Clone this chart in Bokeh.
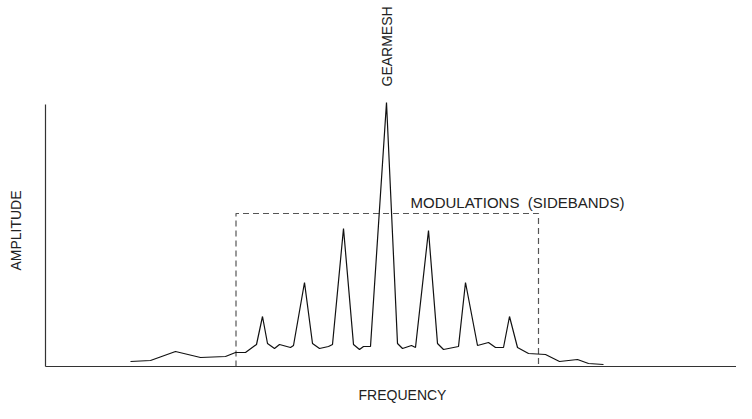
import math
from bokeh.plotting import figure
from bokeh.models import Range1d, FixedTicker, LinearAxis
from bokeh.core.properties import value
from bokeh.embed import file_html
from bokeh.resources import INLINE

# Spectrum (frequency and amplitude in arbitrary units)
frequency = [85, 105, 130, 155, 180, 190, 200, 211, 217, 222, 229, 234, 245, 248,
             259, 267, 274, 283, 287, 298, 308, 314, 318, 325, 341, 352, 357, 366,
             370, 383, 392, 398, 413, 420, 432, 443, 450, 458, 464, 472, 483, 500,
             514, 532, 543, 558]
amplitude = [5, 6, 15, 9, 10, 14, 14, 22, 50, 23, 18, 22, 19, 21,
             84, 23, 18, 20, 22, 138, 22, 17, 20, 20, 264, 23, 18, 21,
             19, 136, 23, 17, 20, 84, 21, 24, 19, 19, 50, 19, 13, 12,
             5, 7, 3, 2]

# Sideband box
box_start = 190.5
box_end = 493
box_level = 153

# Annotation anchors (data units)
gearmesh_freq = 341
gearmesh_text_level = 280
modulation_text_freq = 365
modulation_text_level = 164
freq_label_pos = (357, -28)
amp_label_pos = (-30, 136)

axis_top = 262
x_min, x_max = -45, 691
y_min, y_max = -37, 366

FONT = "Liberation Sans"
TEXT_COLOR = "#222222"

p = figure(width=736, height=403, output_backend="svg", toolbar_location=None,
           x_range=Range1d(x_min, x_max), y_range=Range1d(y_min, y_max),
           min_border_left=0, min_border_right=0, min_border_top=0,
           min_border_bottom=0, x_axis_location=None, y_axis_location=None)
p.outline_line_color = None
p.background_fill_color = "white"
p.border_fill_color = "white"
p.xgrid.visible = False
p.ygrid.visible = False

xa = LinearAxis(ticker=FixedTicker(ticks=[]), fixed_location=0, bounds=(0, x_max))
ya = LinearAxis(ticker=FixedTicker(ticks=[]), fixed_location=0, bounds=(0, axis_top))
for ax in (xa, ya):
    ax.axis_line_color = "#333333"
    ax.axis_line_width = 1.2
    ax.major_tick_line_color = None
    ax.minor_tick_line_color = None
    ax.major_tick_out = 0
    ax.major_tick_in = 0
    ax.minor_tick_out = 0
    ax.minor_tick_in = 0
    ax.major_label_standoff = 0
    ax.major_label_text_font_size = "0px"
p.add_layout(xa, "below")
p.add_layout(ya, "left")

# sideband box (dashed)
p.line([box_start, box_start, box_end, box_end], [0, box_level, box_level, 0],
       line_color="#555555", line_width=1.2, line_dash="6 4")

# spectrum
p.line(frequency, amplitude, line_color="#111111", line_width=1.2)

# labels
p.text(x=[gearmesh_freq], y=[gearmesh_text_level], text=["GEARMESH"], angle=math.pi / 2,
       text_align="left", text_baseline="middle", text_font=value(FONT),
       text_font_size="14px", text_color=TEXT_COLOR)
p.text(x=[modulation_text_freq], y=[modulation_text_level],
       text=["MODULATIONS\u00a0\u00a0(SIDEBANDS)"],
       text_align="left", text_baseline="middle", text_font=value(FONT),
       text_font_size="15px", text_color=TEXT_COLOR)
p.text(x=[freq_label_pos[0]], y=[freq_label_pos[1]], text=["FREQUENCY"],
       text_align="center", text_baseline="middle", text_font=value(FONT),
       text_font_size="14px", text_color=TEXT_COLOR)
p.text(x=[amp_label_pos[0]], y=[amp_label_pos[1]], text=["AMPLITUDE"], angle=math.pi / 2,
       text_align="center", text_baseline="middle", text_font=value(FONT),
       text_font_size="14px", text_color=TEXT_COLOR)

open("out.html", "w").write(file_html(p, INLINE))
